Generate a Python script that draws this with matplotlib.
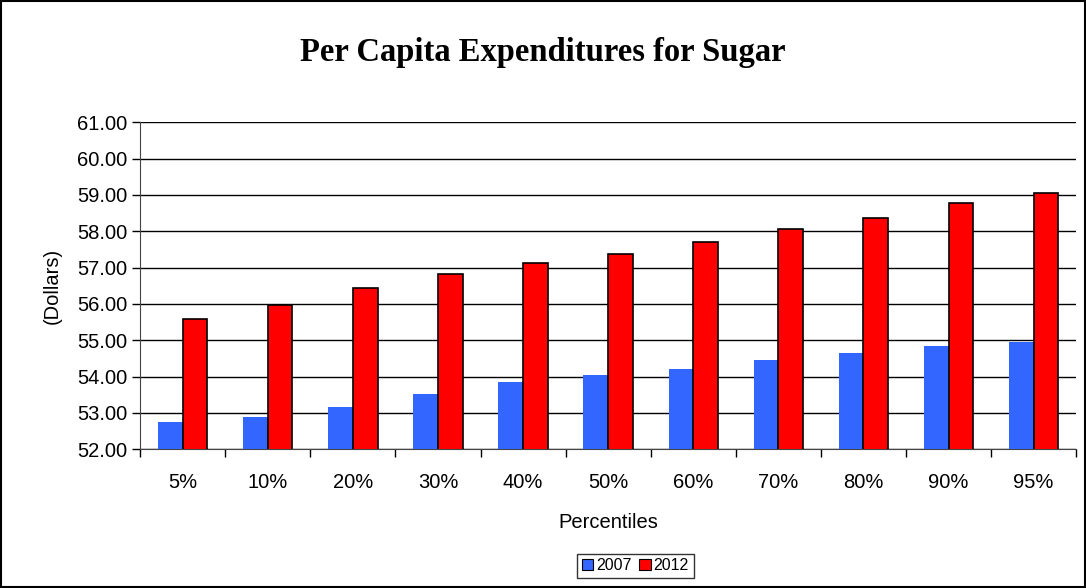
import numpy as np
import matplotlib.pyplot as plt
from matplotlib.patches import Rectangle

plt.rcParams['font.family'] = ['Liberation Sans', 'DejaVu Sans']

percentiles = ['5%', '10%', '20%', '30%', '40%', '50%', '60%', '70%', '80%', '90%', '95%']
sugar_2007 = [52.76, 52.89, 53.15, 53.52, 53.85, 54.03, 54.21, 54.45, 54.64, 54.84, 54.96]
sugar_2012 = [55.58, 55.97, 56.43, 56.82, 57.12, 57.37, 57.71, 58.05, 58.36, 58.79, 59.06]
yticks = np.arange(52, 61.5, 1.0)

fig = plt.figure(figsize=(10.86, 5.88), dpi=100)
ax = fig.add_axes([0.129, 0.236, 0.862, 0.556])

x = np.arange(len(percentiles))
w = 0.29
ax.bar(x - w / 2, sugar_2007, w, color='#3366FF', edgecolor='none', label='2007', zorder=3)
ax.bar(x + w / 2, sugar_2012, w, color='#FF0000', edgecolor='black', linewidth=1.2, label='2012', zorder=3)

ax.set_ylim(52, 61)
ax.set_xlim(-0.5, len(percentiles) - 0.5)
ax.set_yticks(yticks)
ax.set_yticklabels(['%.2f' % v for v in yticks], fontsize=14.5)
ax.set_xticks(x)
ax.set_xticklabels(percentiles, fontsize=14.5)
ax.tick_params(axis='x', length=0, pad=17)
ax.set_xticks(np.arange(-0.5, len(percentiles), 1.0), minor=True)
ax.tick_params(axis='x', which='minor', length=6, direction='out', width=1)
ax.tick_params(axis='y', length=6, direction='out', width=1, pad=3)
ax.yaxis.grid(True, color='black', linewidth=1, zorder=0)
ax.set_axisbelow(True)
for s in ['top', 'right']:
    ax.spines[s].set_visible(False)
ax.spines['left'].set_color('#444444')
ax.spines['bottom'].set_color('#444444')

ax.set_xlabel('Percentiles', fontsize=14.5, labelpad=15)
ax.set_ylabel('(Dollars)', fontsize=14.5, labelpad=11)
fig.text(0.5, 0.910, 'Per Capita Expenditures for Sugar', ha='center', va='center',
         fontsize=23.5, fontweight='bold', family=['Liberation Serif', 'DejaVu Serif'])

leg = ax.legend(loc='center', bbox_to_anchor=(0.585, 0.0375), bbox_transform=fig.transFigure,
                ncol=2, fontsize=11.5, frameon=True, fancybox=False, edgecolor='black',
                handlelength=0.7, handleheight=0.7, handletextpad=0.2, columnspacing=0.5,
                borderpad=0.3)
leg.get_frame().set_linewidth(1)
for h in leg.legend_handles:
    h.set_edgecolor('black')
    h.set_linewidth(0.8)

fig.patches.append(Rectangle((0.001, 0.001), 0.998, 0.997, transform=fig.transFigure,
                             fill=False, edgecolor='black', linewidth=1.5))

fig.savefig('out.png', dpi=100)
